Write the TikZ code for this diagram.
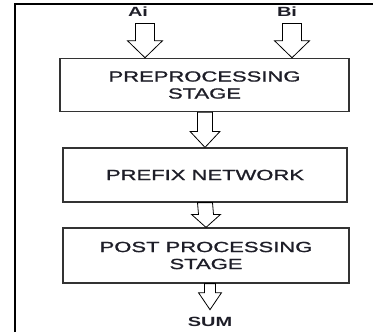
\documentclass[tikz,border=0pt]{standalone}
\usepackage{fontspec}
\usetikzlibrary{calc}
\newfontfamily\boxfont[FakeStretch=1.5, FakeBold=1.2]{Liberation Sans}
\newfontfamily\lblfont[FakeStretch=1.5]{Liberation Sans Bold}
\definecolor{txt}{RGB}{30,30,40}

\tikzset{
  stage/.style={draw=black!80, line width=0.9pt, minimum width=#1, minimum height=40pt,
    align=center, text=txt, font=\boxfont\fontsize{11}{12.75}\selectfont},
  lbl/.style={text=txt, inner sep=1pt, font=\lblfont\fontsize{10}{11}\selectfont},
  hollow/.style={draw, line width=0.6pt, fill=white, line join=miter}
}

% hollow block arrow: start, tip, half shaft, half head, head length
\newcommand{\hollowarrow}[5]{%
  \draw[hollow] ($(#1)+(-#3,0)$) -- ($(#2)+(-#3,-#5)$) -- ($(#2)+(-#4,-#5)$) -- (#2)
    -- ($(#2)+(#4,-#5)$) -- ($(#2)+(#3,-#5)$) -- ($(#1)+(#3,0)$) -- cycle;}

\begin{document}
\begin{tikzpicture}[x=0.75pt, y=-0.75pt]
\useasboundingbox (0,0) rectangle (373,332);

% frame
\draw[line width=1.5pt] (15,332) -- (15,4) -- (373,4);

% stages
\node[stage=216.75pt] (pre) at (204.5,85) {PREPROCESSING\\STAGE};
\node[stage=213pt, minimum height=40.5pt] (pfx) at (205,175) {PREFIX NETWORK};
\node[stage=214.5pt, minimum height=41.25pt] (post) at (206,255.5) {POST PROCESSING\\STAGE};

% inputs and output
\node[lbl] (ai) at (138,12) {Ai};
\node[lbl] (bi) at (287,12) {Bi};
\node[lbl] (sum) at (210,322) {SUM};

\coordinate (ain) at ($(ai.south)+(7,5)$);
\coordinate (bin) at ($(bi.south)+(5,5)$);
\coordinate (sumin) at ($(sum.north)+(0,-6)$);

% arrows
\hollowarrow{ain}{ain |- pre.north}{9.5}{17.5}{17}
\hollowarrow{bin}{bin |- pre.north}{9.5}{17.5}{17}
\hollowarrow{pre.south -| pfx.north}{pfx.north}{7.5}{15}{16}
\hollowarrow{pfx.south}{post.north}{7.5}{14.5}{13}
\hollowarrow{post.south -| sumin}{sumin}{5.5}{11.5}{17}
\end{tikzpicture}
\end{document}
